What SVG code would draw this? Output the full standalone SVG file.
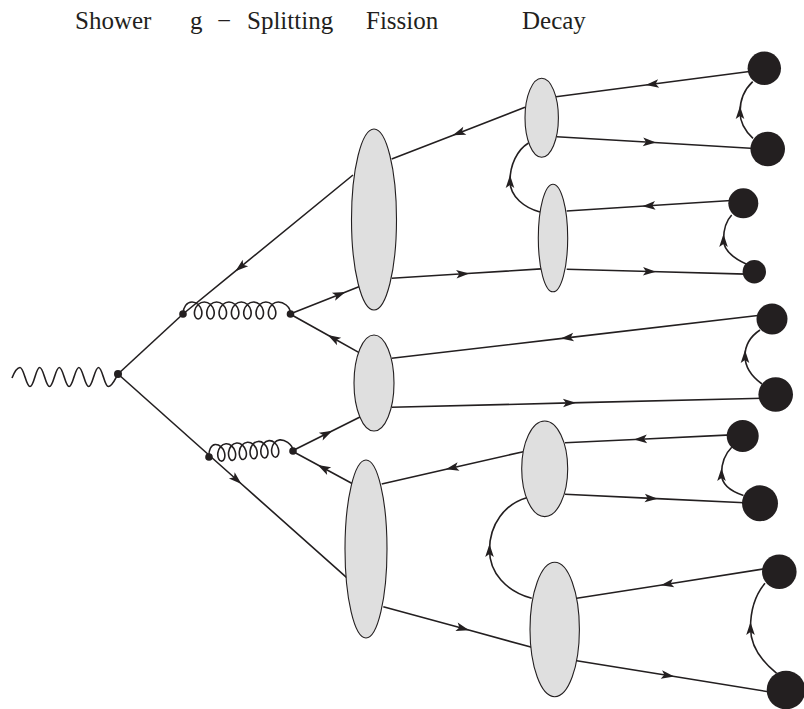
<svg xmlns="http://www.w3.org/2000/svg" width="804" height="709" viewBox="0 0 804 709">
  <defs>
    <marker id="arr" viewBox="-8 -6 16 12" markerWidth="16" markerHeight="12" markerUnits="userSpaceOnUse" orient="auto" refX="0" refY="0">
      <path d="M6,0 L-7,-4.3 L-4,0 L-7,4.3 Z" fill="#231f20"/>
    </marker>
    <style>
      .ln { fill: none; stroke: #231f20; stroke-width: 1.6; }
      .fl { marker-mid: url(#arr); }
      .blob { fill: #dfdfdf; stroke: #231f20; stroke-width: 1.1; }
      .ball { fill: #231f20; }
      .dot { fill: #231f20; }
      .lbl { font-family: "Liberation Serif", "Times New Roman", serif; font-size: 25px; fill: #231f20; }
    </style>
  </defs>
  <rect width="804" height="709" fill="#ffffff"/>

  <!-- stage headings -->
  <g id="labels">
    <text class="lbl" x="75" y="29">Shower</text>
    <text class="lbl" x="190" y="29">g <tspan x="217">−</tspan> <tspan x="247">Splitting</tspan></text>
    <text class="lbl" x="366" y="29">Fission</text>
    <text class="lbl" x="522" y="29">Decay</text>
  </g>

  <!-- propagators -->
  <g id="connectors">
    <!-- photon -->
    <path class="ln" d="M12,378 C14,373 17,367.5 20,367.5 C24,367.5 26,386.5 30,386.5 C34,386.5 35.8,367.5 39.7,367.5 C43.6,367.5 45.6,386.5 49.5,386.5 C53.4,386.5 55.4,367.5 59.3,367.5 C63.2,367.5 65.2,386.5 69.1,386.5 C73,386.5 75,367.5 78.9,367.5 C82.8,367.5 84.8,386.5 88.7,386.5 C92.6,386.5 94.6,367.5 98.5,367.5 C102.4,367.5 104.4,386.5 108.3,386.5 C112.3,386.5 115,379 118,374"/>
    <!-- quark lines from the shower vertex -->
    <path class="ln fl" d="M353,175 L240,267.4 L183,314"/>
    <path class="ln" d="M183,314 L118,374"/>
    <path class="ln" d="M118,374 L210,456"/>
    <path class="ln fl" d="M210,456 L237,480 L347,577.8"/>
    <!-- gluons -->
    <path class="ln" transform="translate(183,314)" d="M0,0 c0,-7 4,-12 9,-12
      c4.65,0 8.5,3.82 9.58,8.5 c1.08,4.68 -0.92,8.5 -3.42,8.5 c-2.5,0 -4.5,-3.82 -3.42,-8.5 c1.08,-4.68 4.93,-8.5 9.58,-8.5
      c4.65,0 8.5,3.82 9.58,8.5 c1.08,4.68 -0.92,8.5 -3.42,8.5 c-2.5,0 -4.5,-3.82 -3.42,-8.5 c1.08,-4.68 4.93,-8.5 9.58,-8.5
      c4.65,0 8.5,3.82 9.58,8.5 c1.08,4.68 -0.92,8.5 -3.42,8.5 c-2.5,0 -4.5,-3.82 -3.42,-8.5 c1.08,-4.68 4.93,-8.5 9.58,-8.5
      c4.65,0 8.5,3.82 9.58,8.5 c1.08,4.68 -0.92,8.5 -3.42,8.5 c-2.5,0 -4.5,-3.82 -3.42,-8.5 c1.08,-4.68 4.93,-8.5 9.58,-8.5
      c4.65,0 8.5,3.82 9.58,8.5 c1.08,4.68 -0.92,8.5 -3.42,8.5 c-2.5,0 -4.5,-3.82 -3.42,-8.5 c1.08,-4.68 4.93,-8.5 9.58,-8.5
      c4.65,0 8.5,3.82 9.58,8.5 c1.08,4.68 -0.92,8.5 -3.42,8.5 c-2.5,0 -4.5,-3.82 -3.42,-8.5 c1.08,-4.68 4.93,-8.5 9.58,-8.5
      c4.65,0 8.5,3.82 9.58,8.5 c1.08,4.68 -0.92,8.5 -3.42,8.5 c-2.5,0 -4.5,-3.82 -3.42,-8.5 c1.08,-4.68 4.93,-8.5 9.58,-8.5
      c4.65,0 12.3,4 12.3,12"/>
    <path class="ln" transform="translate(209,457) rotate(-4.1)" d="M0,0 c0,-7 3,-12 7,-12
      c4.25,0 7.75,3.82 8.7,8.5 c0.95,4.68 -0.95,8.5 -3.3,8.5 c-2.35,0 -4.25,-3.82 -3.3,-8.5 c0.95,-4.68 4.45,-8.5 8.7,-8.5
      c4.25,0 7.75,3.82 8.7,8.5 c0.95,4.68 -0.95,8.5 -3.3,8.5 c-2.35,0 -4.25,-3.82 -3.3,-8.5 c0.95,-4.68 4.45,-8.5 8.7,-8.5
      c4.25,0 7.75,3.82 8.7,8.5 c0.95,4.68 -0.95,8.5 -3.3,8.5 c-2.35,0 -4.25,-3.82 -3.3,-8.5 c0.95,-4.68 4.45,-8.5 8.7,-8.5
      c4.25,0 7.75,3.82 8.7,8.5 c0.95,4.68 -0.95,8.5 -3.3,8.5 c-2.35,0 -4.25,-3.82 -3.3,-8.5 c0.95,-4.68 4.45,-8.5 8.7,-8.5
      c4.25,0 7.75,3.82 8.7,8.5 c0.95,4.68 -0.95,8.5 -3.3,8.5 c-2.35,0 -4.25,-3.82 -3.3,-8.5 c0.95,-4.68 4.45,-8.5 8.7,-8.5
      c4.25,0 7.75,3.82 8.7,8.5 c0.95,4.68 -0.95,8.5 -3.3,8.5 c-2.35,0 -4.25,-3.82 -3.3,-8.5 c0.95,-4.68 4.45,-8.5 8.7,-8.5
      c4,0 12.4,4 12.4,12"/>
    <!-- gluon splitting into quark pairs -->
    <path class="ln fl" d="M290,314 L340,294.2 L362,285.4"/>
    <path class="ln fl" d="M360,353.1 L333,338 L290,314"/>
    <path class="ln fl" d="M292,451 L327,433.5 L362,416"/>
    <path class="ln fl" d="M353,484 L323,467.8 L292,451"/>
    <!-- cluster fission -->
    <path class="ln fl" d="M525,107.3 L458.3,133.2 L391.7,159"/>
    <path class="ln fl" d="M391.7,278.3 L463.3,273.8 L541,268.9"/>
    <path class="ln fl" d="M540,212 C525,208 510,197 510,181 C510,165 517,150 528.5,143"/>
    <path class="ln fl" d="M523.3,451.7 L451.7,468 L381.7,484"/>
    <path class="ln fl" d="M383.3,606.7 L463.3,628.6 L531.7,647.3"/>
    <path class="ln fl" d="M531.7,598.3 C506,591 489.5,573 489.5,550 C489.5,524 505,504 526.7,497.7"/>
    <!-- cluster decays into hadrons -->
    <path class="ln fl" d="M751.3,71.3 L651.7,84.3 L556,96.7"/>
    <path class="ln fl" d="M556.7,136.7 L650,142.25 L754.7,148.5"/>
    <path class="ln fl" d="M753,138.3 C745,131 740,123 740,112 C740,100 745,89 752.7,81.7"/>
    <path class="ln fl" d="M731.3,200.5 L648.3,205.8 L566.7,211"/>
    <path class="ln fl" d="M566.7,269.3 L650,271.5 L746.3,274.1"/>
    <path class="ln fl" d="M746.7,264.3 C733,258 723.5,250 723.5,240 C723.5,229 726,221 731.7,215"/>
    <path class="ln fl" d="M760,315.3 L566.7,337.9 L391.7,358.3"/>
    <path class="ln fl" d="M391.7,407.3 L570,402.9 L763,398.2"/>
    <path class="ln fl" d="M762,384 C751,376 745,366 745,356 C745,345 751,336 760,330"/>
    <path class="ln fl" d="M731.3,434.9 L640,439.2 L565,442.7"/>
    <path class="ln fl" d="M565,494.3 L651.7,498.4 L744.7,502.8"/>
    <path class="ln fl" d="M743.5,495.5 C730,491 721.5,484 721.5,474 C721.5,463 725,454 731.7,447.3"/>
    <path class="ln fl" d="M764.7,568.8 L666.7,584.2 L576.7,598.3"/>
    <path class="ln fl" d="M576.7,660.7 L668.3,675.5 L771.3,692.2"/>
    <path class="ln fl" d="M776.7,673.3 C760,660 750.5,645 750.5,628 C750.5,610 756,594 765,583.3"/>
  </g>

  <!-- vertices -->
  <g id="v-shower"><circle class="dot" cx="118" cy="374" r="4"/></g>
  <g id="v-g1-start"><circle class="dot" cx="183" cy="314" r="3.8"/></g>
  <g id="v-g1-end"><circle class="dot" cx="290.5" cy="314" r="3.8"/></g>
  <g id="v-g2-start"><circle class="dot" cx="209" cy="457" r="3.8"/></g>
  <g id="v-g2-end"><circle class="dot" cx="293" cy="451" r="3.8"/></g>

  <!-- clusters -->
  <g id="cluster-upper"><ellipse class="blob" cx="374" cy="219.5" rx="22.5" ry="90.5"/></g>
  <g id="cluster-middle"><ellipse class="blob" cx="374" cy="383" rx="20" ry="48"/></g>
  <g id="cluster-lower"><ellipse class="blob" cx="366" cy="549" rx="21" ry="89"/></g>
  <g id="fission-1"><ellipse class="blob" cx="541.7" cy="117.8" rx="16.7" ry="39.5"/></g>
  <g id="fission-2"><ellipse class="blob" cx="553" cy="238" rx="14.7" ry="53.8"/></g>
  <g id="fission-3"><ellipse class="blob" cx="544.7" cy="468.8" rx="23" ry="47.8"/></g>
  <g id="fission-4"><ellipse class="blob" cx="554.7" cy="629.5" rx="24.7" ry="67.2"/></g>

  <!-- hadrons -->
  <g id="hadron-1"><circle class="ball" cx="764.3" cy="68.3" r="16.7"/></g>
  <g id="hadron-2"><circle class="ball" cx="767.7" cy="149" r="17.3"/></g>
  <g id="hadron-3"><circle class="ball" cx="743.3" cy="203.3" r="15"/></g>
  <g id="hadron-4"><circle class="ball" cx="754.3" cy="271.7" r="11.7"/></g>
  <g id="hadron-5"><circle class="ball" cx="772" cy="319" r="15.5"/></g>
  <g id="hadron-6"><circle class="ball" cx="775.7" cy="394.5" r="17.3"/></g>
  <g id="hadron-7"><circle class="ball" cx="742.7" cy="436" r="16"/></g>
  <g id="hadron-8"><circle class="ball" cx="760" cy="503.3" r="18"/></g>
  <g id="hadron-9"><circle class="ball" cx="779.3" cy="571.7" r="17.3"/></g>
  <g id="hadron-10"><circle class="ball" cx="786" cy="690" r="19.3"/></g>
</svg>
